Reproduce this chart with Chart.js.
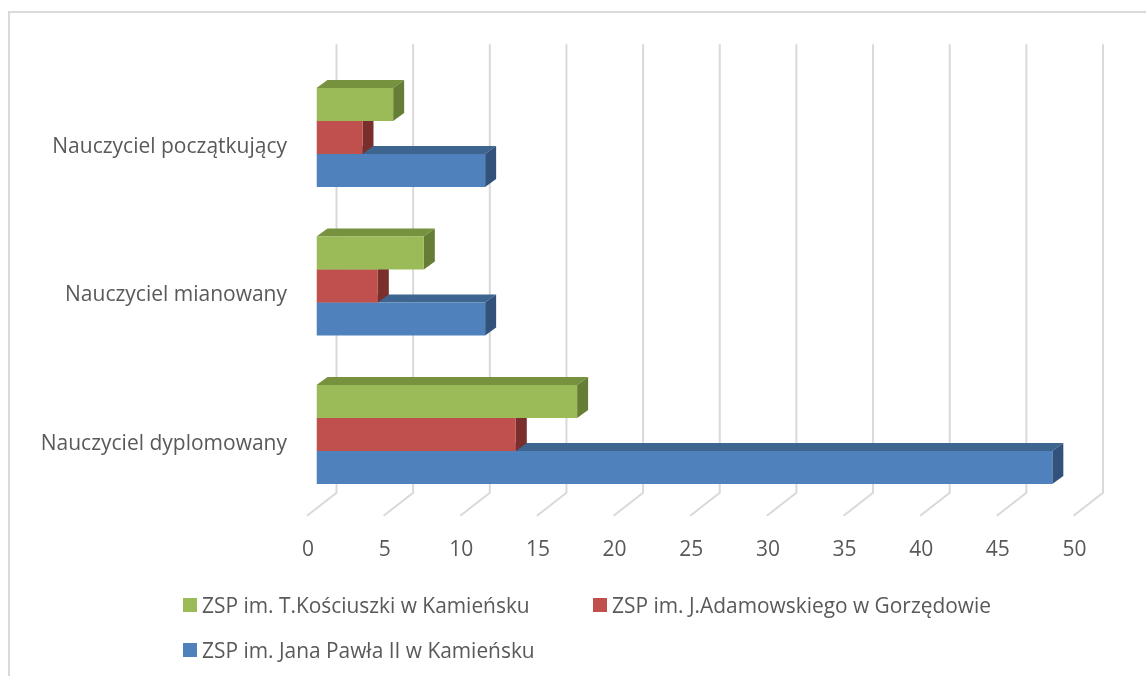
<!DOCTYPE html>
<html lang="pl">
<head>
<meta charset="utf-8">
<title>Nauczyciele</title>
<script src="https://cdn.jsdelivr.net/npm/chart.js@4"></script>
<style>
    html, body { margin: 0; padding: 0; background: #fff; overflow: hidden; }
    #wrap { position: relative; width: 1146px; height: 676px; }
    #frame { position: absolute; left: 8px; top: 11px; right: -5px; bottom: -5px; border: 2px solid #d9d9d9; }
    #chart { position: absolute; left: 0; top: 0; }
    .legend_item { position: absolute; font: 20.9px "Open Sans", sans-serif; color: #595959; line-height: 22px; white-space: nowrap; padding-left: 19px; }
    .legend_item i { position: absolute; left: 0; top: 4px; width: 14px; height: 14px; }
</style>
</head>
<body>
<div id="wrap">
    <div id="frame"></div>
    <canvas id="chart" width="1146" height="676"></canvas>
</div>
<script>
const categories = ['Nauczyciel początkujący', 'Nauczyciel mianowany', 'Nauczyciel dyplomowany'];
const series_names = ['ZSP im. T.Kościuszki w Kamieńsku', 'ZSP im. J.Adamowskiego w Gorzędowie', 'ZSP im. Jana Pawła II w Kamieńsku'];
const values_kosciuszki = [5, 7, 17];
const values_adamowski = [3, 4, 13];
const values_jan_pawel = [11, 11, 48];
const front_colors = ['#9bbb59', '#c0504d', '#4f81bd'];
const top_colors = ['#76923f', '#953735', '#3e6490'];
const side_colors = ['#657d35', '#7a2f2d', '#32527c'];
const legend_positions = [[183, 594], [593, 594], [183, 639]];

// depth of the fake 3D box, in pixels
const depth_x = 11;
const depth_y = 8;

// the back wall lines and the floor diagonals of the 3D plot
const grid_3d = {
    id: 'grid_3d',
    beforeDatasetsDraw(chart) {
        const ctx = chart.ctx;
        const area = chart.chartArea;
        ctx.save();
        ctx.strokeStyle = '#d9d9d9';
        ctx.lineWidth = 2;
        chart.scales.x.ticks.forEach((tick) => {
            const px = chart.scales.x.getPixelForValue(tick.value);
            ctx.beginPath();
            ctx.moveTo(px + 20, area.top - 19);
            ctx.lineTo(px + 20, area.bottom - 16);
            ctx.lineTo(px - 9.5, area.bottom + 7);
            ctx.stroke();
        });
        ctx.restore();
    }
};

// top and side faces, painted just before the flat bars of each dataset
const bar_faces = {
    id: 'bar_faces',
    beforeDatasetDraw(chart, args) {
        const ctx = chart.ctx;
        const i = args.index;
        chart.getDatasetMeta(i).data.forEach((bar) => {
            const y0 = bar.y - bar.height / 2;
            const y1 = bar.y + bar.height / 2;

            ctx.fillStyle = top_colors[i];
            ctx.beginPath();
            ctx.moveTo(bar.base, y0);
            ctx.lineTo(bar.base + depth_x, y0 - depth_y);
            ctx.lineTo(bar.x + depth_x, y0 - depth_y);
            ctx.lineTo(bar.x, y0);
            ctx.closePath();
            ctx.fill();

            ctx.fillStyle = side_colors[i];
            ctx.beginPath();
            ctx.moveTo(bar.x, y0);
            ctx.lineTo(bar.x + depth_x, y0 - depth_y);
            ctx.lineTo(bar.x + depth_x, y1 - depth_y);
            ctx.lineTo(bar.x, y1);
            ctx.closePath();
            ctx.fill();
        });
    }
};

const values = [values_kosciuszki, values_adamowski, values_jan_pawel];

new Chart(document.getElementById('chart'), {
    type: 'bar',
    plugins: [grid_3d, bar_faces],
    data: {
        labels: categories,
        datasets: series_names.map((name, i) => ({
            label: name,
            data: values[i],
            backgroundColor: front_colors[i],
            borderWidth: 0,
            barPercentage: 1,
            categoryPercentage: 0.6667
        }))
    },
    options: {
        indexAxis: 'y',
        responsive: false,
        animation: false,
        devicePixelRatio: 1,
        layout: { padding: { top: 63.25, right: 63, left: 0, bottom: 0 } },
        plugins: {
            legend: { display: false },
            title: { display: false },
            tooltip: { enabled: false }
        },
        scales: {
            x: {
                min: 0,
                max: 50,
                grid: { display: false },
                border: { display: false },
                afterFit(scale) { scale.height = 167.25; },
                ticks: {
                    stepSize: 5,
                    maxRotation: 0,
                    padding: 21,
                    labelOffset: -8.5,
                    color: '#595959',
                    font: { family: 'Open Sans', size: 21 }
                }
            },
            y: {
                grid: { display: false },
                border: { display: false },
                afterFit(scale) { scale.width = 316.5; },
                ticks: {
                    padding: 21.5,
                    labelOffset: 9.5,
                    color: '#595959',
                    font: { family: 'Open Sans', size: 21 }
                }
            }
        }
    }
});

// legend as plain html, it has two columns in the original
series_names.forEach((name, i) => {
    const item = document.createElement('div');
    item.className = 'legend_item';
    item.style.left = `${legend_positions[i][0]}px`;
    item.style.top = `${legend_positions[i][1]}px`;
    item.innerHTML = `<i style="background:${front_colors[i]}"></i>${name}`;
    document.getElementById('wrap').appendChild(item);
});
</script>
</body>
</html>
